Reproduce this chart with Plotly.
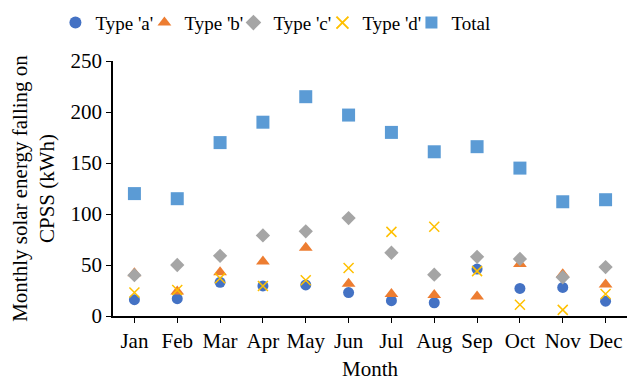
import plotly.graph_objects as go

months = ["Jan", "Feb", "Mar", "Apr", "May", "Jun", "Jul", "Aug", "Sep", "Oct", "Nov", "Dec"]
type_a = [16, 17, 33, 29.5, 30.5, 23, 15, 13, 46, 27, 28, 14.5]
type_b = [42, 24, 43, 53.5, 67, 31.5, 21.5, 20.5, 19, 51, 41, 31]
type_c = [40, 50, 59, 79, 83, 96, 62, 40.5, 58, 56, 38, 48]
type_d = [23, 25.5, 37, 29.5, 35, 47, 82.5, 87.5, 44, 11, 6, 21.5]
total = [120, 115, 170, 190, 215, 197, 180, 161, 166, 145, 112, 114]

font_family = "Liberation Serif"

fig = go.Figure()
fig.add_trace(go.Scatter(x=months, y=type_a, mode="markers", name="Type 'a'",
                         marker=dict(symbol="circle", size=11, color="#4472C4")))
fig.add_trace(go.Scatter(x=months, y=type_b, mode="markers", name="Type 'b'",
                         marker=dict(symbol="triangle-up", size=12, color="#ED7D31")))
fig.add_trace(go.Scatter(x=months, y=type_c, mode="markers", name="Type 'c'",
                         marker=dict(symbol="diamond", size=11, color="#A5A5A5")))
fig.add_trace(go.Scatter(x=months, y=type_d, mode="markers", name="Type 'd'",
                         marker=dict(symbol="x-thin", size=10, color="#FFC000",
                                     line=dict(color="#FFC000", width=1.5))))
fig.add_trace(go.Scatter(x=months, y=total, mode="markers", name="Total",
                         marker=dict(symbol="square", size=13, color="#5B9BD5")))

fig.update_layout(
    width=627, height=381,
    margin=dict(l=113, r=0, t=61, b=65, autoexpand=False),
    paper_bgcolor="white", plot_bgcolor="white",
    font=dict(family=font_family, size=21, color="black"),
    legend=dict(orientation="h", x=-0.112, xanchor="left", y=1.15, yanchor="middle",
                font=dict(size=19), itemsizing="constant", tracegroupgap=0,
                itemwidth=30, entrywidth=44, entrywidthmode="pixels"),
    xaxis=dict(type="category", range=[-0.5, 11.5], showline=True, linecolor="black",
               linewidth=1.5, ticks="outside", ticklen=5, tickcolor="black",
               showgrid=False, zeroline=False,
               title=dict(text="Month", font=dict(size=21), standoff=10),
               tickfont=dict(size=21)),
    yaxis=dict(range=[0, 250], dtick=50, showline=True, linecolor="black",
               linewidth=1.5, ticks="outside", ticklen=5, tickcolor="black",
               showgrid=False, zeroline=False,
               title=dict(text="Monthly solar energy falling on<br>CPSS (kWh)",
                          font=dict(size=21), standoff=10),
               tickfont=dict(size=21)),
    showlegend=True,
)

fig.write_html("out.html")
